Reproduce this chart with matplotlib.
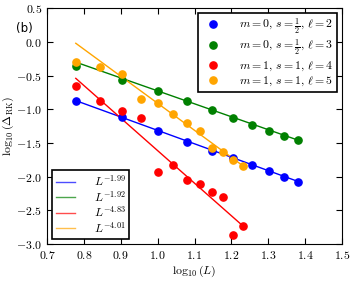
import numpy as np
import matplotlib
matplotlib.use("Agg")
import matplotlib.pyplot as plt

plt.rcParams['mathtext.fontset'] = 'cm'
plt.rcParams['font.family'] = 'serif'
plt.rcParams['font.serif'] = ['DejaVu Serif']
plt.rcParams['axes.unicode_minus'] = True

# system sizes
L_blue = [6, 8, 10, 12, 14, 16, 18, 20, 22, 24]
L_green = [6, 8, 10, 12, 14, 16, 18, 20, 22, 24]
L_red = [6, 7, 8, 9, 10, 11, 12, 13, 14, 15, 16, 17]
L_orange = [6, 7, 8, 9, 10, 11, 12, 13, 14, 15, 16, 17]

# log10(Delta_RK)
y_blue = [-0.877, -1.119, -1.318, -1.481, -1.615, -1.719, -1.828, -1.917, -2.0, -2.076]
y_green = [-0.357, -0.565, -0.728, -0.881, -1.01, -1.124, -1.233, -1.318, -1.397, -1.46]
y_red = [-0.649, -0.881, -1.025, -1.134, -1.927, -1.823, -2.046, -2.1, -2.224, -2.303, -2.863, -2.734]
y_orange = [-0.302, -0.367, -0.48, -0.852, -0.902, -1.075, -1.208, -1.322, -1.58, -1.63, -1.753, -1.838]

labels = [r'$m=0,\, s=\frac{1}{2},\, \ell=2$',
          r'$m=0,\, s=\frac{1}{2},\, \ell=3$',
          r'$m=1,\, s=1,\, \ell=4$',
          r'$m=1,\, s=1,\, \ell=5$']
colors = ['blue', 'green', 'red', 'orange']

# fits: slope, intercept, x range (L)
slopes = [-1.99, -1.92, -4.83, -4.01]
intercepts = [0.678, 1.194, 3.218, 3.10]
fit_L = [(6, 24), (6, 24), (6, 17), (6, 17)]

xticks = [0.7, 0.8, 0.9, 1.0, 1.1, 1.2, 1.3, 1.4, 1.5]
yticks = [-3.0, -2.5, -2.0, -1.5, -1.0, -0.5, 0.0, 0.5]

fig = plt.figure(figsize=(3.53, 2.82), dpi=100)
ax = fig.add_axes([0.133, 0.134, 0.836, 0.837])

Ls = [L_blue, L_green, L_red, L_orange]
ys = [y_blue, y_green, y_red, y_orange]

pts = []
for L, y, c, lab in zip(Ls, ys, colors, labels):
    h, = ax.plot(np.log10(L), y, 'o', color=c, markersize=5.2, label=lab, zorder=3)
    pts.append(h)

fits = []
for sl, b, (a, e), c in zip(slopes, intercepts, fit_L, colors):
    xx = np.log10([a, e])
    h, = ax.plot(xx, sl * xx + b, '-', color=c, lw=1.0, zorder=2)
    fits.append(h)

ax.set_xlim(0.7, 1.5)
ax.set_ylim(-3.0, 0.5)
ax.set_xticks(xticks)
ax.set_yticks(yticks)
ax.set_xticklabels([r'$%.1f$' % v for v in xticks])
ax.set_yticklabels([r'$%.1f$' % v if v >= 0 else r'$-%.1f$' % -v for v in yticks])
ax.tick_params(direction='in', top=True, right=True, labelsize=8.5, length=4, width=0.8)
for s in ax.spines.values():
    s.set_linewidth(0.8)

ax.set_xlabel(r'$\log_{10}(L)$', fontsize=8.5, labelpad=1)
ax.set_ylabel(r'$\log_{10}(\Delta_{\rm RK})$', fontsize=8.5, labelpad=0)

leg1 = ax.legend(handles=pts, loc='upper right', numpoints=1, fontsize=8.5,
                 fancybox=False, edgecolor='black', framealpha=1,
                 borderpad=0.3, labelspacing=0.12, handletextpad=1.3,
                 handlelength=1.9, borderaxespad=0.4)
leg1.get_frame().set_linewidth(1.2)
ax.add_artist(leg1)

fit_labels = [r'$L^{-1.99}$', r'$L^{-1.92}$', r'$L^{-4.83}$', r'$L^{-4.01}$']
leg2 = ax.legend(fits, fit_labels, loc='lower left', fontsize=8.5,
                 fancybox=False, edgecolor='black', framealpha=1,
                 borderpad=0.3, labelspacing=0.05, handlelength=1.6,
                 handletextpad=1.6, borderaxespad=0.45)
leg2.get_frame().set_linewidth(1.2)
for ln in leg2.get_lines():
    ln.set_alpha(0.7)

fig.text(0.045, 0.885, '(b)', fontsize=8.5, family='DejaVu Sans')

fig.savefig('out.png', dpi=100)
